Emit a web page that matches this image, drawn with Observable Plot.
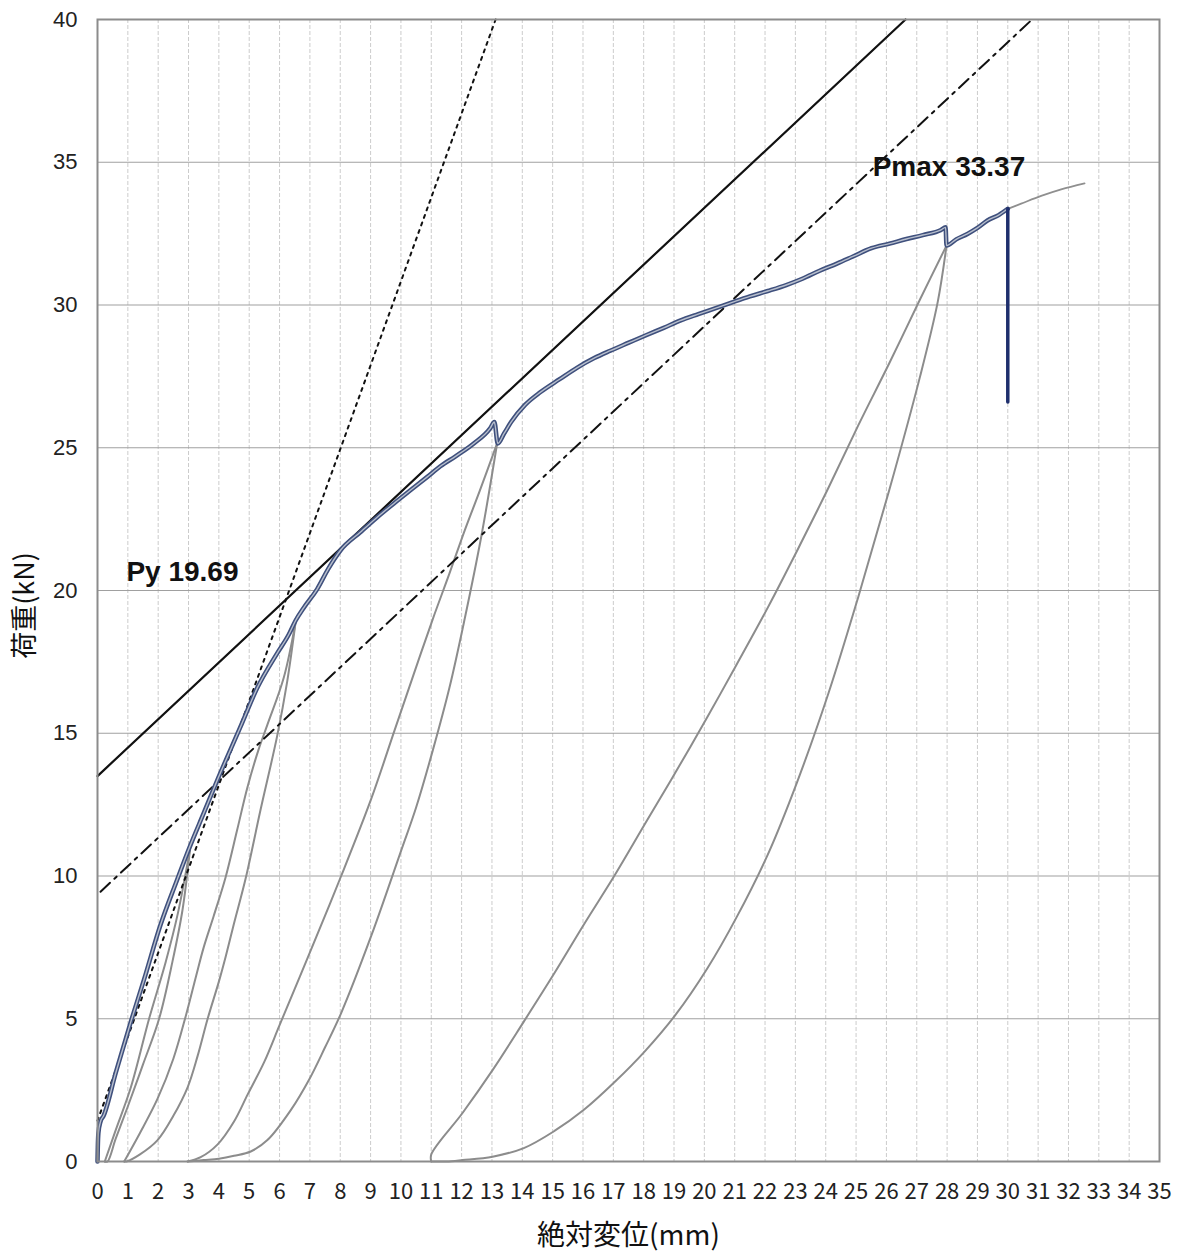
<!DOCTYPE html>
<html>
<head>
<meta charset="utf-8">
<script src="https://cdn.jsdelivr.net/npm/d3@7"></script>
<script src="https://cdn.jsdelivr.net/npm/@observablehq/plot@0.6"></script>
<style>
  html, body { margin: 0; padding: 0; background: #fff; }
  #chart svg { display: block; }
</style>
</head>
<body>
<div id="chart"></div>
<script>
// 荷重-絶対変位曲線：包絡線、除荷・再載荷ループ、降伏耐力算定用の補助線

// axis ticks
const xTickValues = [0,1,2,3,4,5,6,7,8,9,10,11,12,13,14,15,16,17,18,19,20,21,22,23,24,25,26,27,28,29,30,31,32,33,34,35];
const yTickValues = [0,5,10,15,20,25,30,35,40];
const xGridValues = [1,2,3,4,5,6,7,8,9,10,11,12,13,14,15,16,17,18,19,20,21,22,23,24,25,26,27,28,29,30,31,32,33,34];
const yGridValues = [5,10,15,20,25,30,35];

// envelope (mm, kN)
const envelopeX = [0,0.01,0.03,0.1,0.2,0.6,1.1,1.53,2.08,2.6,3.07,3.5,3.95,4.71,5.27,5.92,6.3,6.53,6.8,7.24,7.6,8.01,8.67,9.2,9.77,10.3,10.87,11.3,11.8,12.4,12.94,13.08,13.19,13.4,13.63,14.09,14.6,15.23,15.8,16.37,16.9,17.51,18.1,18.66,19.2,19.8,20.4,20.94,21.5,22.09,22.7,23.23,23.8,24.37,24.9,25.51,26.1,26.66,27.2,27.8,27.95,27.98,28.3,28.67,29.0,29.33,29.7,30.0];
const envelopeY = [0,0.5,1.0,1.4,1.6,3.1,4.9,6.36,8.3,9.8,11.1,12.2,13.36,15.22,16.6,17.8,18.45,18.95,19.4,20.05,20.75,21.41,22.05,22.55,23.05,23.5,23.98,24.35,24.7,25.15,25.68,25.9,25.15,25.5,25.9,26.5,26.95,27.4,27.8,28.14,28.4,28.68,28.95,29.2,29.45,29.68,29.9,30.1,30.3,30.49,30.7,30.92,31.2,31.45,31.7,31.99,32.15,32.31,32.45,32.63,32.72,32.08,32.3,32.49,32.7,32.96,33.15,33.37];

// load after the envelope ends
const tailX = [30.0,30.44,31.1,31.76,32.53];
const tailY = [33.37,33.55,33.82,34.05,34.26];

// drop at the end of the envelope
const dropX = [30.0,30.0];
const dropY = [33.37,26.6];

// cycle 1
const loop1DownX = [3.05,2.65,2.25,1.70,1.1,0.6,0.24];
const loop1DownY = [10.95,8.7,7.0,5.0,2.6,1.1,0];
const loop1UpX = [0.24,0.33,0.6,0.99,1.5,2.03,2.47,2.8,3.05];
const loop1UpY = [0,0,0.8,1.9,3.4,5.0,7.0,8.8,10.95];

// cycle 2
const loop2DownX = [6.53,6.14,5.6,5.3,4.94,4.6,4.22,3.83,3.5,3.25,2.91,2.5,1.98,1.4,0.88];
const loop2DownY = [18.9,16.95,15.3,14.4,13.1,11.6,9.95,8.6,7.5,6.5,5.1,3.6,2.2,1.0,0];
const loop2UpX = [0.88,0.95,1.4,1.98,2.5,2.97,3.3,3.63,4.0,4.23,4.49,4.88,5.37,5.92,6.25,6.53];
const loop2UpY = [0,0,0.25,0.75,1.6,2.6,3.7,5.0,6.3,7.2,8.3,9.9,12.3,14.9,16.8,18.9];

// cycle 3
const loop3DownX = [13.17,12.6,12.1,11.6,11.05,10.4,9.79,9.02,8.03,6.99,6.5,5.99,5.5,4.95,4.5,3.96,3.4,2.97];
const loop3DownY = [25.15,23.5,22.1,20.6,19.0,17.0,15.1,12.7,10.0,7.3,6.05,4.75,3.5,2.35,1.4,0.6,0.15,0];
const loop3UpX = [2.97,3.5,4.0,4.5,5.05,5.6,6.37,6.99,7.5,8.03,9.02,10.01,10.5,11.05,11.6,12.1,12.65,13.17];
const loop3UpY = [0,0.05,0.1,0.2,0.35,0.75,1.8,2.9,4.0,5.2,7.9,10.9,12.4,14.4,16.6,19.0,21.9,25.15];

// cycle 4
const loop4DownX = [27.98,27.11,26.09,25.08,24.09,23.06,22.09,21.06,20.09,19.06,18.03,17.06,16.03,15.06,14.05,13.02,12.03,11.0,11.0];
const loop4DownY = [32.08,30.2,27.95,25.8,23.6,21.4,19.4,17.4,15.55,13.65,11.8,10.05,8.3,6.6,4.9,3.2,1.7,0.25,0];
const loop4UpX = [11.0,11.5,12.03,13.02,14.05,15.06,16.03,17.06,18.03,19.06,20.09,21.06,22.09,23.06,24.09,25.08,26.09,27.11,27.69,27.98];
const loop4UpY = [0,0,0.05,0.17,0.47,1.07,1.81,2.8,3.85,5.15,6.75,8.55,10.75,13.3,16.4,19.8,23.5,27.5,30.1,32.08];

// straight lines: initial stiffness (0.1–0.4Pmax), 0.4–0.9Pmax line, parallel tangent
const initialLineX = [0,13.12];
const initialLineY = [1.43,40];
const secantLineX = [0.1,30.76];
const secantLineY = [9.45,39.96];
const tangentLineX = [0,26.63];
const tangentLineY = [13.5,40];

// annotations
const labelText = ["Py 19.69","Pmax 33.37"];
const labelX = [2.8,28.06];
const labelY = [20.64,34.85];

const pts = (xs, ys) => xs.map((x, i) => ({x, y: ys[i]}));

// each unloading / reloading branch drawn as its own smooth path
const branches = [
  [loop1DownX, loop1DownY], [loop1UpX, loop1UpY],
  [loop2DownX, loop2DownY], [loop2UpX, loop2UpY],
  [loop3DownX, loop3DownY], [loop3UpX, loop3UpY],
  [loop4DownX, loop4DownY], [loop4UpX, loop4UpY]
].flatMap(([xs, ys], k) => pts(xs, ys).map(d => ({...d, branch: k})));

const envelope = pts(envelopeX, envelopeY);
const tail = pts(tailX, tailY);
const drop = pts(dropX, dropY);
const labels = labelText.map((t, i) => ({text: t, x: labelX[i], y: labelY[i]}));

const latin = "'Liberation Sans', Arial, sans-serif";
const jp = "'Noto Sans CJK JP', 'Noto Sans', sans-serif";

const chart = Plot.plot({
  width: 1191,
  height: 1255,
  marginLeft: 97,
  marginRight: 32,
  marginTop: 19,
  marginBottom: 94,
  x: {domain: [0, 35]},
  y: {domain: [0, 40]},
  style: {background: "#fff", color: "#222"},
  marks: [
    Plot.gridX(xGridValues, {stroke: "#cccccc", strokeOpacity: 1, strokeWidth: 1, strokeDasharray: "4,2"}),
    Plot.gridY(yGridValues, {stroke: "#a0a0a0", strokeOpacity: 1, strokeWidth: 1.2}),
    Plot.line(branches, {x: "x", y: "y", z: "branch", curve: "catmull-rom", stroke: "#8c8c8c", strokeWidth: 2}),
    Plot.line(pts(initialLineX, initialLineY), {x: "x", y: "y", stroke: "#111", strokeWidth: 2, strokeDasharray: "3,5"}),
    Plot.line(pts(secantLineX, secantLineY), {x: "x", y: "y", stroke: "#111", strokeWidth: 2, strokeDasharray: "13,6,3,6"}),
    Plot.line(pts(tangentLineX, tangentLineY), {x: "x", y: "y", stroke: "#111", strokeWidth: 2.2}),
    Plot.line(tail, {x: "x", y: "y", curve: "catmull-rom", stroke: "#8f8f8f", strokeWidth: 1.8}),
    Plot.line(envelope, {x: "x", y: "y", curve: "monotone-x", stroke: "#3f507d", strokeWidth: 4.5, strokeLinejoin: "round"}),
    Plot.line(envelope, {x: "x", y: "y", curve: "monotone-x", stroke: "#b8bfcd", strokeWidth: 1.4, strokeLinejoin: "round"}),
    Plot.line(drop, {x: "x", y: "y", stroke: "#1f2f6d", strokeWidth: 3.5}),
    Plot.frame({stroke: "#8c8c8c", strokeWidth: 2}),
    Plot.text(labels, {x: "x", y: "y", text: "text", fontSize: 28, fontWeight: "bold", fontFamily: latin, fill: "#111"}),
    Plot.axisX(xTickValues, {tickSize: 0, tickPadding: 22, fontSize: 22, fontFamily: jp, label: null, tickFormat: d => String(d)}),
    Plot.axisY(yTickValues, {tickSize: 0, tickPadding: 20, fontSize: 22, fontFamily: latin, label: null, tickFormat: d => String(d)}),
    Plot.text(["絶対変位(mm)"], {frameAnchor: "bottom", textAnchor: "middle", lineAnchor: "middle", dy: 75, fontSize: 28, fontFamily: jp, fill: "#111"}),
    Plot.text(["荷重(kN)"], {frameAnchor: "left", textAnchor: "middle", lineAnchor: "middle", dx: -72, dy: 15, rotate: -90, fontSize: 27, fontFamily: jp, fill: "#111"})
  ]
});

document.getElementById("chart").appendChild(chart);
</script>
</body>
</html>
